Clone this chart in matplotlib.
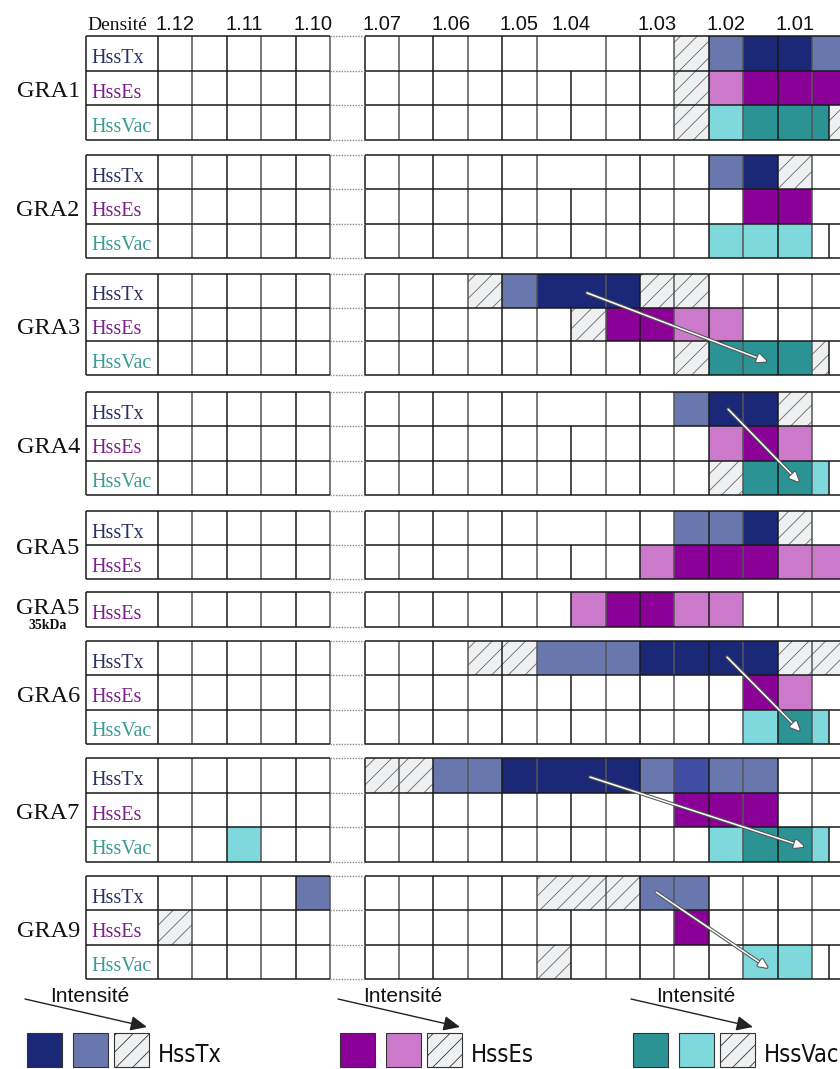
import matplotlib
matplotlib.use('Agg')
import matplotlib.pyplot as plt
from matplotlib.patches import Rectangle
import matplotlib.patheffects as pe
from matplotlib import font_manager

W, H = 840, 1069
SERIF = 'Liberation Serif'
SANS = 'Liberation Sans'
_condensed = [f for f in font_manager.fontManager.ttflist
              if f.name == 'DejaVu Sans' and f.stretch == 'condensed' and f.style == 'normal'
              and f.weight in (400, 'normal')]

# ---------------- data ----------------
density_labels = ['1.12', '1.11', '1.10', '1.07', '1.06', '1.05', '1.04', '1.03', '1.02', '1.01']
density_pos = [0.5, 2.5, 4.5, 6.5, 8.5, 10.5, 12.0, 14.5, 16.5, 18.5]

# cells: (start column, end column, intensity level)  D=strong, L=medium, H=weak (hatched), M=mid-strong
gra1_tx = [(15, 16, 'H'), (16, 17, 'L'), (17, 19, 'D'), (19, 20, 'L')]
gra1_es = [(15, 16, 'H'), (16, 17, 'L'), (17, 20, 'D')]
gra1_vac = [(15, 16, 'H'), (16, 17, 'L'), (17, 19.5, 'D'), (19.5, 20, 'H')]

gra2_tx = [(16, 17, 'L'), (17, 18, 'D'), (18, 19, 'H')]
gra2_es = [(17, 19, 'D')]
gra2_vac = [(16, 19, 'L')]

gra3_tx = [(9, 10, 'H'), (10, 11, 'L'), (11, 14, 'D'), (14, 16, 'H')]
gra3_es = [(12, 13, 'H'), (13, 15, 'D'), (15, 17, 'L')]
gra3_vac = [(15, 16, 'H'), (16, 19, 'D'), (19, 19.5, 'H')]

gra4_tx = [(15, 16, 'L'), (16, 18, 'D'), (18, 19, 'H')]
gra4_es = [(16, 17, 'L'), (17, 18, 'D'), (18, 19, 'L')]
gra4_vac = [(16, 17, 'H'), (17, 19, 'D'), (19, 19.5, 'L')]

gra5_tx = [(15, 17, 'L'), (17, 18, 'D'), (18, 19, 'H')]
gra5_es = [(14, 15, 'L'), (15, 18, 'D'), (18, 20, 'L')]

gra5_35_es = [(12, 13, 'L'), (13, 15, 'D'), (15, 17, 'L')]

gra6_tx = [(9, 11, 'H'), (11, 14, 'L'), (14, 18, 'D'), (18, 20, 'H')]
gra6_es = [(17, 18, 'D'), (18, 19, 'L')]
gra6_vac = [(17, 18, 'L'), (18, 19, 'D'), (19, 19.5, 'L')]

gra7_tx = [(6, 8, 'H'), (8, 10, 'L'), (10, 14, 'D'), (14, 15, 'L'), (15, 16, 'M'), (16, 18, 'L')]
gra7_es = [(15, 18, 'D')]
gra7_vac = [(2, 3, 'L'), (16, 17, 'L'), (17, 19, 'D'), (19, 19.5, 'L')]

gra9_tx = [(4, 5, 'L'), (11, 14, 'H'), (14, 16, 'L')]
gra9_es = [(0, 1, 'H'), (15, 16, 'D')]
gra9_vac = [(11, 12, 'H'), (17, 19, 'L')]

blocks = [
    ('GRA1', [('HssTx', gra1_tx), ('HssEs', gra1_es), ('HssVac', gra1_vac)]),
    ('GRA2', [('HssTx', gra2_tx), ('HssEs', gra2_es), ('HssVac', gra2_vac)]),
    ('GRA3', [('HssTx', gra3_tx), ('HssEs', gra3_es), ('HssVac', gra3_vac)]),
    ('GRA4', [('HssTx', gra4_tx), ('HssEs', gra4_es), ('HssVac', gra4_vac)]),
    ('GRA5', [('HssTx', gra5_tx), ('HssEs', gra5_es)]),
    ('GRA5|35kDa', [('HssEs', gra5_35_es)]),
    ('GRA6', [('HssTx', gra6_tx), ('HssEs', gra6_es), ('HssVac', gra6_vac)]),
    ('GRA7', [('HssTx', gra7_tx), ('HssEs', gra7_es), ('HssVac', gra7_vac)]),
    ('GRA9', [('HssTx', gra9_tx), ('HssEs', gra9_es), ('HssVac', gra9_vac)]),
]

# trend arrows: (start col, start row) -> (end col, end row)
arrows = {
    'GRA3': ((12.46, 0.56), (17.69, 2.60)),
    'GRA4': ((16.56, 0.50), (18.62, 2.62)),
    'GRA6': ((16.53, 0.47), (18.65, 2.62)),
    'GRA7': ((12.55, 0.55), (18.77, 2.56)),
    'GRA9': ((14.47, 0.47), (17.72, 2.68)),
}

# ---------------- style ----------------
palette = {
    'HssTx': {'D': '#1b2878', 'L': '#6877ad', 'M': '#3f4ea3'},
    'HssEs': {'D': '#8b0097', 'L': '#cc79cc'},
    'HssVac': {'D': '#2b9393', 'L': '#7ed8dc'},
}
label_colors = {'HssTx': '#2b3263', 'HssEs': '#7b1f8c', 'HssVac': '#3a9c92'}
HATCH_FACE = '#eef0f2'
HATCH_EDGE = '#666666'
plt.rcParams['hatch.linewidth'] = 0.6

block_px = [(36, 140), (155, 258), (274, 375), (392, 495), (511, 579),
            (592, 627), (641, 744), (758, 862), (876, 979)]

X0, X1 = -2.09, 19.81
LEFT_PX = 86

fig = plt.figure(figsize=(W / 100, H / 100), dpi=100)
fig.patch.set_facecolor('white')

for bi, ((gname, rows), (top, bot)) in enumerate(zip(blocks, block_px)):
    n = len(rows)
    ax = fig.add_axes([LEFT_PX / W, 1 - bot / H, (W - LEFT_PX) / W, (bot - top) / H])
    ax.set_xlim(X0, X1)
    ax.set_ylim(n, 0)
    ax.axis('off')

    for r, (name, cells) in enumerate(rows):
        for (s, e, lvl) in cells:
            if lvl == 'H':
                ax.barh(r + 0.5, e - s, left=s, height=1, color=HATCH_FACE,
                        hatch='//', edgecolor=HATCH_EDGE, linewidth=0, zorder=1)
            else:
                ax.barh(r + 0.5, e - s, left=s, height=1,
                        color=palette[name][lvl], linewidth=0, zorder=1)
        # vertical grid lines
        xs = [X0] + list(range(0, 20))
        if name == 'HssTx':
            xs.remove(12)
        if name == 'HssVac':
            xs.append(19.5)
        for x in xs:
            c = '#1a1a1a' if (isinstance(x, float) or x % 2 == 0) else '#555555'
            ax.vlines(x, r, r + 1, color=c, lw=1.1, zorder=3, clip_on=False)
        # row label
        ax.text(-1.94, r + 0.78, name, ha='left', va='baseline', fontsize=14.5,
                family=SERIF, color=label_colors[name], zorder=4)

    # horizontal grid lines
    for y in range(n + 1):
        ax.hlines(y, X0, 5, color='#1a1a1a', lw=1.1, zorder=3, clip_on=False)
        ax.hlines(y, 6, X1, color='#1a1a1a', lw=1.1, zorder=3, clip_on=False)
        ax.hlines(y, 5, 6, color='#888888', lw=1.0, linestyles=(0, (1, 1)),
                  zorder=3, clip_on=False)

    # group label
    if '|' in gname:
        g, sub = gname.split('|')
        ax.text(-2.27, 0.64, g, ha='right', va='baseline', fontsize=17.5,
                family=SERIF, color='#111111')
        ax.text(-3.2, 1.05, sub, ha='center', va='baseline', fontsize=10,
                family=SERIF, weight='bold', color='#111111')
    else:
        ax.text(-2.27, n / 2 + 0.27, gname, ha='right', va='baseline', fontsize=17.5,
                family=SERIF, color='#111111')

    if gname in arrows:
        (sx, sy), (ex, ey) = arrows[gname]
        ax.annotate('', xy=(ex, ey), xytext=(sx, sy), zorder=6,
                    arrowprops=dict(arrowstyle='-|>,head_length=0.55,head_width=0.25',
                                    color='white', lw=1.1, shrinkA=0, shrinkB=0,
                                    path_effects=[pe.Stroke(linewidth=2.6, foreground='#555555'),
                                                  pe.Normal()]))

    if bi == 0:
        ax.text(-2.05, -0.17, 'Densité', ha='left', va='baseline', fontsize=14,
                family=SERIF, color='#111111')
        for p, lbl in zip(density_pos, density_labels):
            ax.text(p, -0.17, lbl, ha='center', va='baseline', fontsize=14.5,
                    family=SANS, color='#111111')

# ---------------- legend ----------------
lax = fig.add_axes([0, 0, 1, 89 / H])
lax.set_xlim(0, W)
lax.set_ylim(H, 980)
lax.axis('off')

legend_groups = [('HssTx', 27), ('HssEs', 340), ('HssVac', 633)]
for name, x0 in legend_groups:
    lax.text(x0 + 23, 1002, 'Intensité', ha='left', va='baseline', fontsize=15,
             family=SANS, color='#111111')
    lax.annotate('', xy=(x0 + 120, 1027), xytext=(x0 - 2, 999),
                 arrowprops=dict(arrowstyle='-|>,head_length=1.0,head_width=0.45',
                                 color='#222222', lw=1.0, shrinkA=0, shrinkB=0))
    sq = [(x0, palette[name]['D'], None), (x0 + 46, palette[name]['L'], None),
          (x0 + 87, HATCH_FACE, '//')]
    for sx, col, hat in sq:
        lax.add_patch(Rectangle((sx, 1033), 35, 34, facecolor=col, hatch=hat,
                                edgecolor='#333333', lw=0.8))
    if _condensed:
        lax.text(x0 + 131, 1062, name, ha='left', va='baseline', fontsize=17,
                 family='DejaVu Sans', fontstretch='condensed', color='#111111')
    else:
        lax.text(x0 + 131, 1061, name, ha='left', va='baseline', fontsize=15,
                 family=SANS, color='#111111')

fig.savefig('out.png', dpi=100, facecolor='white')
